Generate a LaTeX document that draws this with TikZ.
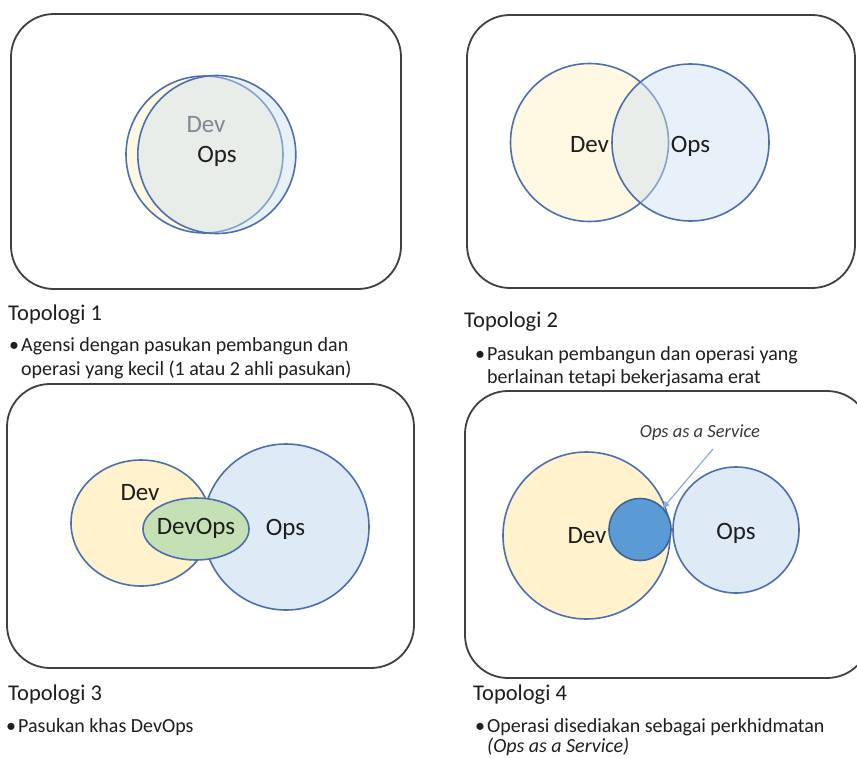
\documentclass[tikz,border=0pt]{standalone}
\usepackage{fontspec}
\setmainfont{Carlito}
\usetikzlibrary{shapes.geometric,arrows.meta}

\definecolor{framegray}{HTML}{404040}
\definecolor{rimblue}{HTML}{4E6FAE}
\definecolor{devpale}{HTML}{FFF8E2}
\definecolor{opspale}{HTML}{CEE0F4}
\definecolor{devfill}{HTML}{FFF2CC}
\definecolor{opsfill}{HTML}{DEEBF7}
\definecolor{teamgreen}{HTML}{C5E0B4}
\definecolor{svcblue}{HTML}{5B9BD5}
\definecolor{svcrim}{HTML}{3E6496}
\definecolor{pointer}{HTML}{8EA9DB}
\definecolor{ink}{HTML}{1E1E1E}
\definecolor{hint}{HTML}{383838}

\begin{document}
\begin{tikzpicture}[x=1pt,y=-1pt,
  panel/.style={draw=framegray,line width=1.8pt,rounded corners=43pt},
  ring/.style={circle,draw=rimblue,line width=1.6pt,inner sep=0pt,outer sep=0pt},
  oval/.style={ellipse,draw=rimblue,line width=1.6pt,inner sep=0pt,outer sep=0pt},
  tag/.style={anchor=base,inner sep=0pt,font=\fontsize{25}{30}\selectfont,text=ink},
  heading/.style={anchor=base west,inner sep=0pt,font=\fontsize{22.5}{27}\selectfont,text=ink},
  note/.style={anchor=base west,inner sep=0pt,font=\fontsize{20}{24}\selectfont,text=ink},
  hintnote/.style={anchor=base,inner sep=0pt,font=\fontsize{18.5}{22}\selectfont\itshape,text=hint},
  pointerline/.style={draw=pointer,line width=1.2pt,-{Triangle[length=7pt,width=6pt]}}
]
\useasboundingbox (0,0) rectangle (857,758);
\clip (0,0) rectangle (857,758);
\fill[white] (0,0) rectangle (857,758);

% ---------- frames ----------
\draw[panel] (11,14) rectangle (401,289);
\draw[panel] (467,15) rectangle (855,288);
\draw[panel] (7,384) rectangle (414,668);
\draw[panel] (465,391) rectangle (870,678);

% ---------- Topologi 1: one shared team ----------
\node[ring,fill=devpale,minimum size=157pt] (t1dev) at (204.5,154.5) {};
\node[tag,text=black!75] (t1devlbl) at (206,132) {Dev};
\node[ring,fill=opspale,fill opacity=0.45,text opacity=1,minimum size=158pt] (t1ops) at (216.8,154.5) {};
\node[tag] (t1opslbl) at (217,162) {Ops};

% ---------- Topologi 2: overlapping teams ----------
\node[ring,fill=devpale,minimum size=158pt] (t2dev) at (589.5,142.5) {};
\node[tag] (t2devlbl) at (589.5,152) {Dev};
\node[ring,fill=opspale,fill opacity=0.45,text opacity=1,minimum size=157pt] (t2ops) at (690.5,142.5) {};
\node[tag] (t2opslbl) at (690.5,152) {Ops};

% ---------- Topologi 3: dedicated DevOps team ----------
\node[oval,fill=devfill,minimum width=140pt,minimum height=126pt] (t3dev) at (141,523) {};
\node[ring,fill=opsfill,minimum size=166pt] (t3ops) at (286,527) {};
\node[oval,fill=teamgreen,minimum width=106pt,minimum height=62pt] (t3team) at (196,529) {};
\node[tag] (t3devlbl) at (140,500) {Dev};
\node[tag] (t3teamlbl) at (196,534) {DevOps};
\node[tag] (t3opslbl) at (285.5,535) {Ops};

% ---------- Topologi 4: Ops as a Service ----------
\node[ring,fill=devfill,minimum size=167pt] (t4dev) at (586.5,535.5) {};
\node[ring,fill=opsfill,minimum size=126pt] (t4ops) at (736,530) {};
\node[circle,draw=svcrim,line width=1.6pt,fill=svcblue,inner sep=0pt,outer sep=0pt,minimum size=62pt] (t4svc) at (640,529.5) {};
\node[tag] (t4devlbl) at (587,543) {Dev};
\node[tag] (t4opslbl) at (736,539) {Ops};
\node[hintnote] (t4hint) at (700,437) {Ops as a Service};
\coordinate (t4tail) at (713,449);
\draw[pointerline] (t4tail) -- (t4svc.43);

% ---------- captions ----------
\node[heading] (cap1) at (8,320) {Topologi 1};
\node[note] (dot1) at (9,351) {•};
\node[note] (cap1a) at (21,351) {Agensi dengan pasukan pembangun dan};
\node[note] (cap1b) at (21,375) {operasi yang kecil (1 atau 2 ahli pasukan)};

\node[heading] (cap2) at (464,327) {Topologi 2};
\node[note] (dot2) at (475,360) {•};
\node[note] (cap2a) at (487,360) {Pasukan pembangun dan operasi yang};
\node[note] (cap2b) at (487,383) {berlainan tetapi bekerjasama erat};

\node[heading] (cap3) at (8,700) {Topologi 3};
\node[note] (dot3) at (6,732) {•};
\node[note] (cap3a) at (18,732) {Pasukan khas DevOps};

\node[heading] (cap4) at (473,700) {Topologi 4};
\node[note] (dot4) at (475,732) {•};
\node[note] (cap4a) at (487,732) {Operasi disediakan sebagai perkhidmatan};
\node[note,font=\fontsize{20}{24}\selectfont\itshape] (cap4b) at (487,752) {(Ops as a Service)};
\end{tikzpicture}
\end{document}
